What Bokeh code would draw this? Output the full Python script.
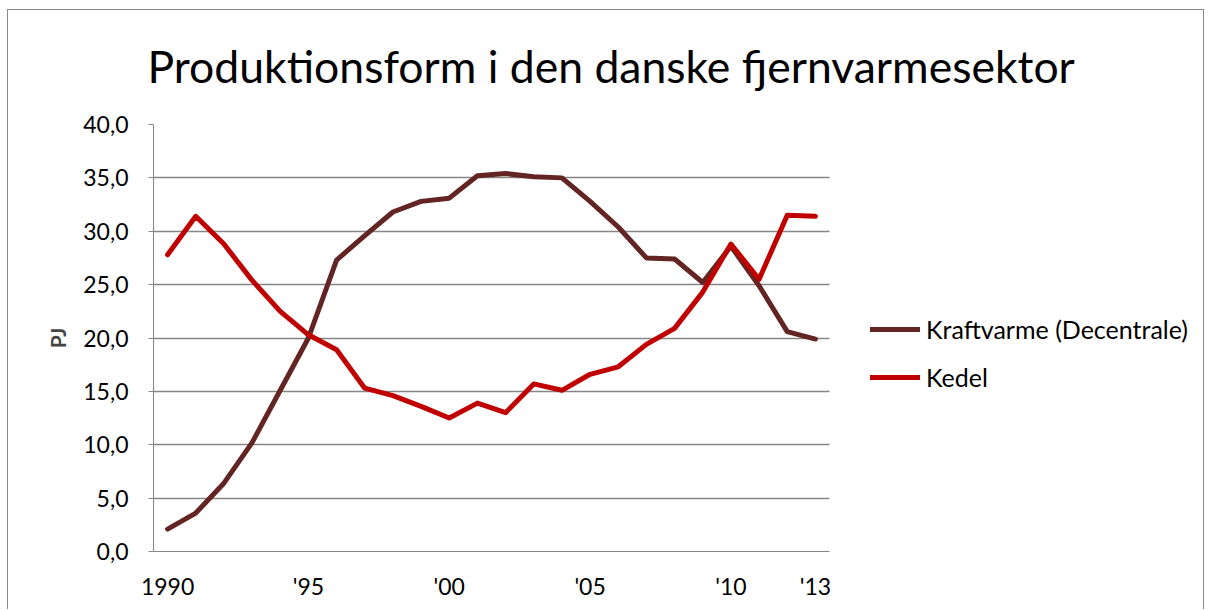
from bokeh.plotting import figure
from bokeh.models import Range1d, FixedTicker, Legend, LegendItem, Title
from bokeh.embed import file_html
from bokeh.resources import INLINE

years = list(range(1990, 2014))
kraftvarme = [2.1, 3.6, 6.4, 10.2, 15.1, 20.0, 27.3, 29.6, 31.8, 32.8, 33.1, 35.2,
              35.4, 35.1, 35.0, 32.8, 30.4, 27.5, 27.4, 25.2, 28.6, 24.9, 20.6, 19.9]
kedel = [27.8, 31.4, 28.8, 25.4, 22.5, 20.3, 18.9, 15.3, 14.6, 13.6, 12.5, 13.9,
         13.0, 15.7, 15.1, 16.6, 17.3, 19.4, 20.9, 24.3, 28.8, 25.5, 31.5, 31.4]
series_names = ["Kraftvarme (Decentrale)", "Kedel"]
x_tick_years = [1990, 1995, 2000, 2005, 2010, 2013]
x_tick_labels = ["1990", "'95", "'00", "'05", "'10", "'13"]
y_ticks = [0, 5, 10, 15, 20, 25, 30, 35, 40]
y_tick_labels = ["0,0", "5,0", "10,0", "15,0", "20,0", "25,0", "30,0", "35,0", "40,0"]

FONT = "Lato"
GRAY = "#868686"

W, H = 1197, 609
BL, BR, BT, BB = 146, 10, 124, 58
PLOT_W = 676                      # width of the data area (categories)
frame_w = W - BL - BR
x0 = years[0] - 0.5
x1 = years[-1] + 0.5
x_end = x0 + (x1 - x0) * frame_w / PLOT_W   # extra room on the right for the legend

p = figure(width=W, height=H, output_backend="svg", toolbar_location=None,
           x_range=Range1d(x0, x_end), y_range=Range1d(0, 40),
           min_border_left=BL, min_border_right=BR, min_border_top=BT,
           min_border_bottom=BB)
bc = "#888888"
p.styles = {
    "margin-left": "7px",
    "background": (f"linear-gradient({bc},{bc}) 0 9px / 100% 1px no-repeat, "
                   f"linear-gradient({bc},{bc}) 0 9px / 1px 100% no-repeat, "
                   f"linear-gradient({bc},{bc}) 100% 9px / 1px 100% no-repeat, white"),
}
p.outline_line_color = None
p.background_fill_color = "white"
p.border_fill_alpha = 0

p.title = Title(text="Produktionsform i den danske fjernvarmesektor",
                text_font=FONT, text_font_size="44.5px", text_font_style="normal",
                text_color="#000000", align="left", offset=-6, standoff=66)

# axes
p.xaxis.ticker = FixedTicker(ticks=x_tick_years)
p.xaxis.major_label_overrides = {y: l for y, l in zip(x_tick_years, x_tick_labels)}
p.xaxis.bounds = (x0, x1)
p.xaxis.major_tick_line_color = None
p.xaxis.minor_tick_line_color = None
p.xaxis.axis_line_color = GRAY
p.xaxis.major_label_text_font = FONT
p.xaxis.major_label_text_font_size = "23px"
p.xaxis.major_label_text_color = "#000000"
p.xaxis.major_label_standoff = 14

p.yaxis.ticker = FixedTicker(ticks=y_ticks)
p.yaxis.major_label_overrides = {v: l for v, l in zip(y_ticks, y_tick_labels)}
p.yaxis.minor_tick_line_color = None
p.yaxis.axis_line_color = GRAY
p.yaxis.major_tick_line_color = GRAY
p.yaxis.major_tick_out = 5
p.yaxis.major_tick_in = 0
p.yaxis.major_label_text_font = FONT
p.yaxis.major_label_text_font_size = "23px"
p.yaxis.major_label_text_color = "#000000"
p.yaxis.major_label_standoff = 20
p.yaxis.axis_label = "PJ"
p.yaxis.axis_label_text_font = FONT
p.yaxis.axis_label_text_font_size = "21px"
p.yaxis.axis_label_text_font_style = "bold"
p.yaxis.axis_label_standoff = 10

p.xgrid.grid_line_color = None
p.ygrid.grid_line_color = GRAY
p.ygrid.grid_line_width = 1.3
p.ygrid.cross_bounds = (x0, x1)

r1 = p.line(years, kraftvarme, line_color="#632523", line_width=5, line_join="round", line_cap="round")
r2 = p.line(years, kedel, line_color="#C00000", line_width=5, line_join="round", line_cap="round")

legend = Legend(items=[LegendItem(label=series_names[0], renderers=[r1]),
                       LegendItem(label=series_names[1], renderers=[r2])],
                location=(717, 159), orientation="vertical",
                glyph_width=50, glyph_height=22, label_height=22, label_standoff=6,
                spacing=18, padding=0, margin=0,
                label_text_font=FONT, label_text_font_size="25px",
                label_text_color="#000000",
                border_line_color=None, background_fill_alpha=0)
p.add_layout(legend, "center")

open("out.html", "w").write(file_html(p, INLINE))
